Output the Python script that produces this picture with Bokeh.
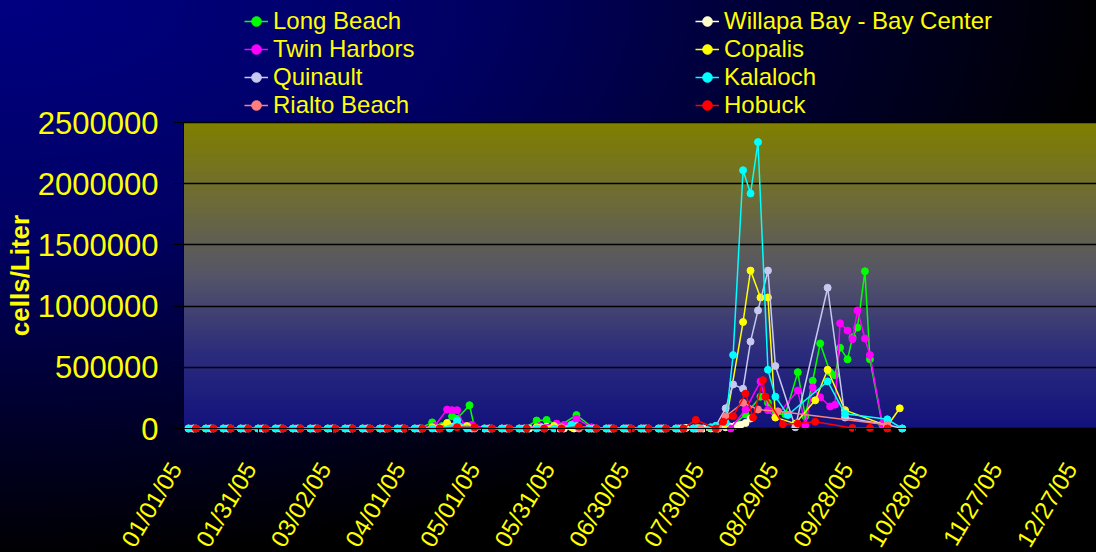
import numpy as np
import pandas as pd
from datetime import datetime, timedelta
from bokeh.plotting import figure
from bokeh.models import (Range1d, FixedTicker, DatetimeTickFormatter, NumeralTickFormatter,
                          Legend, LegendItem, ColumnDataSource, DatetimeAxis, Grid)
from bokeh.embed import file_html
from bokeh.resources import INLINE

YEAR = 2005

# ---------------- data (date MM/DD, cells per liter) ----------------
long_beach = [("01/05", 0), ("01/12", 0), ("01/19", 0), ("01/26", 0), ("02/02", 0), ("02/09", 0),
              ("02/16", 0), ("02/23", 0), ("03/02", 0), ("03/09", 0), ("03/16", 0), ("03/23", 0),
              ("03/30", 0), ("04/06", 0), ("04/11", 50000), ("04/15", 20000), ("04/19", 100000),
              ("04/21", 80000), ("04/26", 190000), ("04/28", 10000), ("05/04", 0), ("05/11", 0),
              ("05/18", 0), ("05/23", 65000), ("05/27", 70000), ("06/01", 20000), ("06/08", 110000),
              ("06/15", 0), ("06/22", 0), ("06/29", 0), ("07/06", 0), ("07/13", 0), ("07/20", 0),
              ("07/27", 5000), ("08/03", 0), ("08/09", 10000), ("08/15", 115000), ("08/21", 260000),
              ("08/24", 210000), ("08/27", 120000), ("08/31", 115000), ("09/05", 460000),
              ("09/08", 100000), ("09/11", 390000), ("09/14", 695000), ("09/18", 460000),
              ("09/20", 435000), ("09/22", 660000), ("09/25", 565000), ("09/27", 745000),
              ("09/29", 825000), ("10/02", 1285000), ("10/04", 565000), ("10/09", 30000)]

willapa_bay = [("05/20", 0), ("05/24", 10000), ("05/27", 15000), ("05/31", 5000), ("06/03", 0),
               ("06/07", 0), ("06/14", 0), ("06/21", 0), ("06/28", 0), ("07/05", 0), ("07/12", 0),
               ("07/19", 0), ("07/22", 5000), ("07/26", 0), ("07/29", 0), ("08/01", 5000),
               ("08/04", 0), ("08/07", 10000), ("08/09", 15000), ("08/11", 25000), ("08/13", 30000),
               ("08/15", 45000), ("08/17", 82000)]

twin_harbors = [("01/04", 0), ("01/11", 0), ("01/18", 0), ("01/25", 0), ("02/01", 0), ("02/08", 0),
                ("02/15", 0), ("02/22", 0), ("03/01", 0), ("03/08", 0), ("03/15", 0), ("03/22", 0),
                ("03/29", 0), ("04/05", 0), ("04/12", 20000), ("04/17", 155000), ("04/19", 150000),
                ("04/21", 150000), ("04/24", 20000), ("04/27", 30000), ("05/03", 0), ("05/10", 0),
                ("05/17", 0), ("05/24", 20000), ("05/31", 40000), ("06/03", 30000), ("06/08", 80000),
                ("06/14", 10000), ("06/21", 0), ("06/28", 0), ("07/05", 0), ("07/12", 0),
                ("07/19", 0), ("07/26", 0), ("08/02", 0), ("08/09", 0), ("08/15", 155000),
                ("08/21", 385000), ("08/24", 150000), ("08/27", 90000), ("09/05", 310000),
                ("09/08", 25000), ("09/11", 335000), ("09/14", 255000), ("09/18", 180000),
                ("09/20", 195000), ("09/22", 860000), ("09/25", 800000), ("09/27", 730000),
                ("09/29", 965000), ("10/02", 735000), ("10/04", 600000), ("10/09", 40000)]

copalis = [("01/03", 0), ("01/10", 0), ("01/17", 0), ("01/24", 0), ("01/31", 0), ("02/07", 0),
           ("02/14", 0), ("02/21", 0), ("02/28", 0), ("03/07", 0), ("03/14", 0), ("03/21", 0),
           ("03/28", 0), ("04/04", 0), ("04/11", 10000), ("04/17", 45000), ("04/25", 20000),
           ("05/02", 0), ("05/09", 0), ("05/16", 0), ("05/23", 10000), ("05/30", 20000),
           ("06/06", 10000), ("06/13", 0), ("06/20", 0), ("06/27", 0), ("07/04", 0), ("07/11", 0),
           ("07/18", 0), ("07/25", 0), ("08/01", 0), ("08/07", 40000), ("08/14", 870000),
           ("08/17", 1290000), ("08/21", 1070000), ("08/24", 1070000), ("08/27", 90000),
           ("09/04", 40000), ("09/12", 230000), ("09/17", 480000), ("09/24", 150000),
           ("10/11", 20000), ("10/16", 165000)]

quinault = [("01/05", 0), ("01/12", 0), ("01/19", 0), ("01/26", 0), ("02/02", 0), ("02/09", 0),
            ("02/16", 0), ("02/23", 0), ("03/02", 0), ("03/09", 0), ("03/16", 0), ("03/23", 0),
            ("03/30", 0), ("04/06", 0), ("04/13", 0), ("04/20", 20000), ("04/27", 0), ("05/04", 0),
            ("05/11", 0), ("05/18", 0), ("05/25", 10000), ("06/01", 0), ("06/08", 20000),
            ("06/15", 0), ("06/22", 0), ("06/29", 0), ("07/06", 0), ("07/13", 0), ("07/20", 0),
            ("07/27", 0), ("08/03", 20000), ("08/07", 165000), ("08/10", 360000), ("08/14", 325000),
            ("08/17", 710000), ("08/20", 965000), ("08/24", 1290000), ("08/27", 510000),
            ("09/04", 10000), ("09/17", 1150000), ("09/24", 90000), ("10/11", 30000), ("10/17", 0)]

kalaloch = [("01/03", 0), ("01/10", 0), ("01/17", 0), ("01/24", 0), ("01/31", 0), ("02/07", 0),
            ("02/14", 0), ("02/21", 0), ("02/28", 0), ("03/07", 0), ("03/14", 0), ("03/21", 0),
            ("03/28", 0), ("04/04", 0), ("04/11", 0), ("04/18", 0), ("04/21", 65000), ("04/25", 0),
            ("05/02", 0), ("05/09", 0), ("05/16", 0), ("05/23", 0), ("05/30", 0), ("06/06", 30000),
            ("06/13", 0), ("06/20", 0), ("06/27", 0), ("07/04", 0), ("07/11", 0), ("07/18", 0),
            ("07/25", 0), ("08/01", 10000), ("08/03", 20000), ("08/07", 50000), ("08/10", 600000),
            ("08/14", 2110000), ("08/17", 1920000), ("08/20", 2340000), ("08/24", 480000),
            ("08/27", 260000), ("09/01", 110000), ("09/17", 385000), ("09/24", 120000),
            ("10/11", 75000), ("10/17", 0)]

rialto_beach = [("01/06", 0), ("01/13", 0), ("01/20", 0), ("01/27", 0), ("02/03", 0), ("02/10", 0),
                ("02/17", 0), ("02/24", 0), ("03/03", 0), ("03/10", 0), ("03/17", 0), ("03/24", 0),
                ("03/31", 0), ("04/07", 0), ("04/14", 0), ("04/21", 15000), ("04/28", 0),
                ("05/05", 0), ("05/12", 0), ("05/19", 0), ("05/26", 0), ("06/02", 10000),
                ("06/09", 0), ("06/16", 0), ("06/23", 0), ("06/30", 0), ("07/07", 0), ("07/14", 0),
                ("07/21", 0), ("07/28", 0), ("08/04", 0), ("08/07", 100000), ("08/14", 210000),
                ("08/20", 155000), ("08/28", 140000), ("10/11", 30000)]

hobuck = [("01/06", 0), ("01/13", 0), ("01/20", 0), ("01/27", 0), ("02/03", 0), ("02/10", 0),
          ("02/17", 0), ("02/24", 0), ("03/03", 0), ("03/10", 0), ("03/17", 0), ("03/24", 0),
          ("03/31", 0), ("04/07", 0), ("04/14", 0), ("04/21", 10000), ("04/28", 10000),
          ("05/05", 0), ("05/12", 0), ("05/19", 0), ("05/26", 0), ("06/02", 0), ("06/09", 15000),
          ("06/16", 0), ("06/23", 0), ("06/30", 0), ("07/07", 0), ("07/14", 0), ("07/21", 0),
          ("07/26", 70000), ("08/03", 0), ("08/06", 55000), ("08/10", 100000), ("08/15", 285000),
          ("08/18", 90000), ("08/22", 395000), ("08/23", 260000), ("08/30", 35000),
          ("09/05", 40000), ("09/12", 55000), ("09/27", 5000), ("10/04", 5000), ("10/11", 0)]

series_names = ["Long Beach", "Willapa Bay - Bay Center", "Twin Harbors", "Copalis",
                "Quinault", "Kalaloch", "Rialto Beach", "Hobuck"]
series_data = [long_beach, willapa_bay, twin_harbors, copalis, quinault, kalaloch,
               rialto_beach, hobuck]
series_colors = ["#00ff00", "#fffff0", "#ff00ff", "#ffff00", "#c8c8f0", "#00ffff",
                 "#ff7f7f", "#ff0000"]
marker_colors = ["#00ff00", "#ffffcc", "#ff00ff", "#ffff00", "#c8c8f0", "#00ffff",
                 "#ff7f7f", "#ff0000"]

y_max = 2500000
y_ticks = [0, 500000, 1000000, 1500000, 2000000, 2500000]
x_tick_labels = ["01/01/05", "01/31/05", "03/02/05", "04/01/05", "05/01/05", "05/31/05",
                 "06/30/05", "07/30/05", "08/29/05", "09/28/05", "10/28/05", "11/27/05",
                 "12/27/05"]

# ---------------- helpers ----------------
def to_dt(md):
    m, d = md.split("/")
    return datetime(YEAR, int(m), int(d))

def to_ms(dt):
    return int(round((dt - datetime(1970, 1, 1)).total_seconds() * 1000.0))

W, H = 1096, 552
LEFT = 183             # pixel column of the y axis (first date)
AXIS_Y = 428           # pixel row of the x axis (value 0)
PLOT_H = 306           # pixel height of the 0..2.5M plot area
PX_PER_DAY = 2.487
px_per_unit = PLOT_H / y_max
y_top = AXIS_Y / px_per_unit
y_bottom = -(H - AXIS_Y) / px_per_unit

x_start = datetime(YEAR, 1, 1)
x_plot_end = x_start + timedelta(days=(W - LEFT) / PX_PER_DAY)
x_view_start = x_start - timedelta(days=LEFT / PX_PER_DAY)
x_tick_ms = [to_ms(datetime.strptime(s, "%m/%d/%y")) for s in x_tick_labels]
label_shift_ms = int(8 / PX_PER_DAY * 86400000)   # rotated labels end at their tick
x_label_ms = [t - label_shift_ms for t in x_tick_ms]

p = figure(width=W, height=H, x_axis_type="datetime", output_backend="svg",
           toolbar_location=None,
           x_range=Range1d(x_view_start, x_plot_end), y_range=Range1d(y_bottom, y_top),
           min_border_left=0, min_border_right=0, min_border_top=0, min_border_bottom=0)
p.border_fill_color = None
p.background_fill_color = None
p.outline_line_color = None
p.styles = {"background": "radial-gradient(ellipse farthest-corner at 0% 0%, #000082 0%, "
                          "#000064 30%, #000000 72%)"}

# plot-area gradient (bottom navy -> top olive)
stops = [(0.0, (18, 18, 125)), (0.25, (45, 45, 125)), (0.5, (85, 85, 105)),
         (0.75, (110, 108, 55)), (1.0, (128, 128, 0))]
N = 240
img = np.empty((N, 2), dtype=np.uint32)
view = img.view(dtype=np.uint8).reshape((N, 2, 4))
pos = np.linspace(0, 1, N)
sp = [s[0] for s in stops]
for ch in range(3):
    vals = np.interp(pos, sp, [s[1][ch] for s in stops])
    view[:, :, ch] = vals[:, None].astype(np.uint8)
view[:, :, 3] = 255
p.image_rgba(image=[img], x=to_ms(x_start), y=0, dw=to_ms(x_plot_end) - to_ms(x_start),
             dh=y_max, level="image")

# horizontal grid lines, only across the plot area
p.xgrid.visible = False
if "cross_bounds" in Grid.properties():
    p.ygrid.ticker = FixedTicker(ticks=y_ticks)
    p.ygrid.grid_line_color = "black"
    p.ygrid.grid_line_width = 1.3
    p.ygrid.cross_bounds = (to_ms(x_start), to_ms(x_plot_end))
else:
    p.ygrid.visible = False
    n = len(y_ticks)
    p.segment(x0=[x_start] * n, y0=y_ticks, x1=[x_plot_end] * n, y1=y_ticks,
              line_color="black", line_width=1.3, level="underlay")

# y axis (drawn at the first date)
yax = p.yaxis[0]
yax.fixed_location = to_ms(x_start)
yax.bounds = (0, y_max)
yax.ticker = FixedTicker(ticks=y_ticks)
yax.formatter = NumeralTickFormatter(format="0")
yax.major_label_text_color = "#ffff00"
yax.major_label_text_font = "Liberation Sans"
yax.major_label_text_font_size = "31px"
yax.major_label_standoff = 15
yax.major_tick_out = 10
yax.major_tick_in = 0
yax.minor_tick_out = 0
yax.minor_tick_in = 0
yax.axis_line_color = "black"
yax.major_tick_line_color = "black"
yax.axis_label = "cells/Liter"
yax.axis_label_text_color = "#ffff00"
yax.axis_label_text_font = "Liberation Sans"
yax.axis_label_text_font_style = "bold"
yax.axis_label_text_font_size = "26px"
yax.axis_label_standoff = 0

# x axis: line + tick marks
xax = p.xaxis[0]
xax.fixed_location = 0
xax.bounds = (x_start, x_plot_end)
xax.ticker = FixedTicker(ticks=x_tick_ms)
xax.major_label_text_color = None
xax.major_tick_out = 7
xax.major_tick_in = 0
xax.minor_tick_out = 0
xax.minor_tick_in = 0
xax.axis_line_color = "black"
xax.major_tick_line_color = "black"

# x axis: rotated date labels
xlab = DatetimeAxis(fixed_location=0, ticker=FixedTicker(ticks=x_label_ms),
                    major_label_overrides={t: s for t, s in zip(x_label_ms, x_tick_labels)},
                    axis_line_color=None, major_tick_line_color=None,
                    minor_tick_line_color=None, major_tick_out=7, major_tick_in=0,
                    minor_tick_out=0, minor_tick_in=0)
xlab.major_label_orientation = 1.03
xlab.major_label_text_color = "#ffff00"
xlab.major_label_text_font = "Liberation Sans"
xlab.major_label_text_font_size = "24px"
xlab.major_label_standoff = 29
p.add_layout(xlab, "below")

# series
items = {}
for name, data, lc, mc in zip(series_names, series_data, series_colors, marker_colors):
    src = ColumnDataSource(dict(x=[to_dt(d) for d, _ in data], y=[v for _, v in data]))
    r1 = p.line("x", "y", source=src, line_color=lc, line_width=1.5)
    r2 = p.scatter("x", "y", source=src, size=7, fill_color=mc, line_color=mc)
    items[name] = [r1, r2]

legend_kw = dict(label_text_color="#ffff00", label_text_font="Liberation Sans",
                 label_text_font_size="24px", background_fill_alpha=0, border_line_alpha=0,
                 padding=0, margin=0, spacing=0, glyph_width=24, glyph_height=28,
                 label_height=28, label_standoff=5)
left_names = ["Long Beach", "Twin Harbors", "Quinault", "Rialto Beach"]
right_names = ["Willapa Bay - Bay Center", "Copalis", "Kalaloch", "Hobuck"]
leg_y = H - 119
leg1 = Legend(items=[LegendItem(label=n, renderers=items[n]) for n in left_names],
              location=(244, leg_y), **legend_kw)
leg2 = Legend(items=[LegendItem(label=n, renderers=items[n]) for n in right_names],
              location=(695, leg_y), **legend_kw)
p.add_layout(leg1, "center")
p.add_layout(leg2, "center")

open("out.html", "w").write(file_html(p, INLINE))
